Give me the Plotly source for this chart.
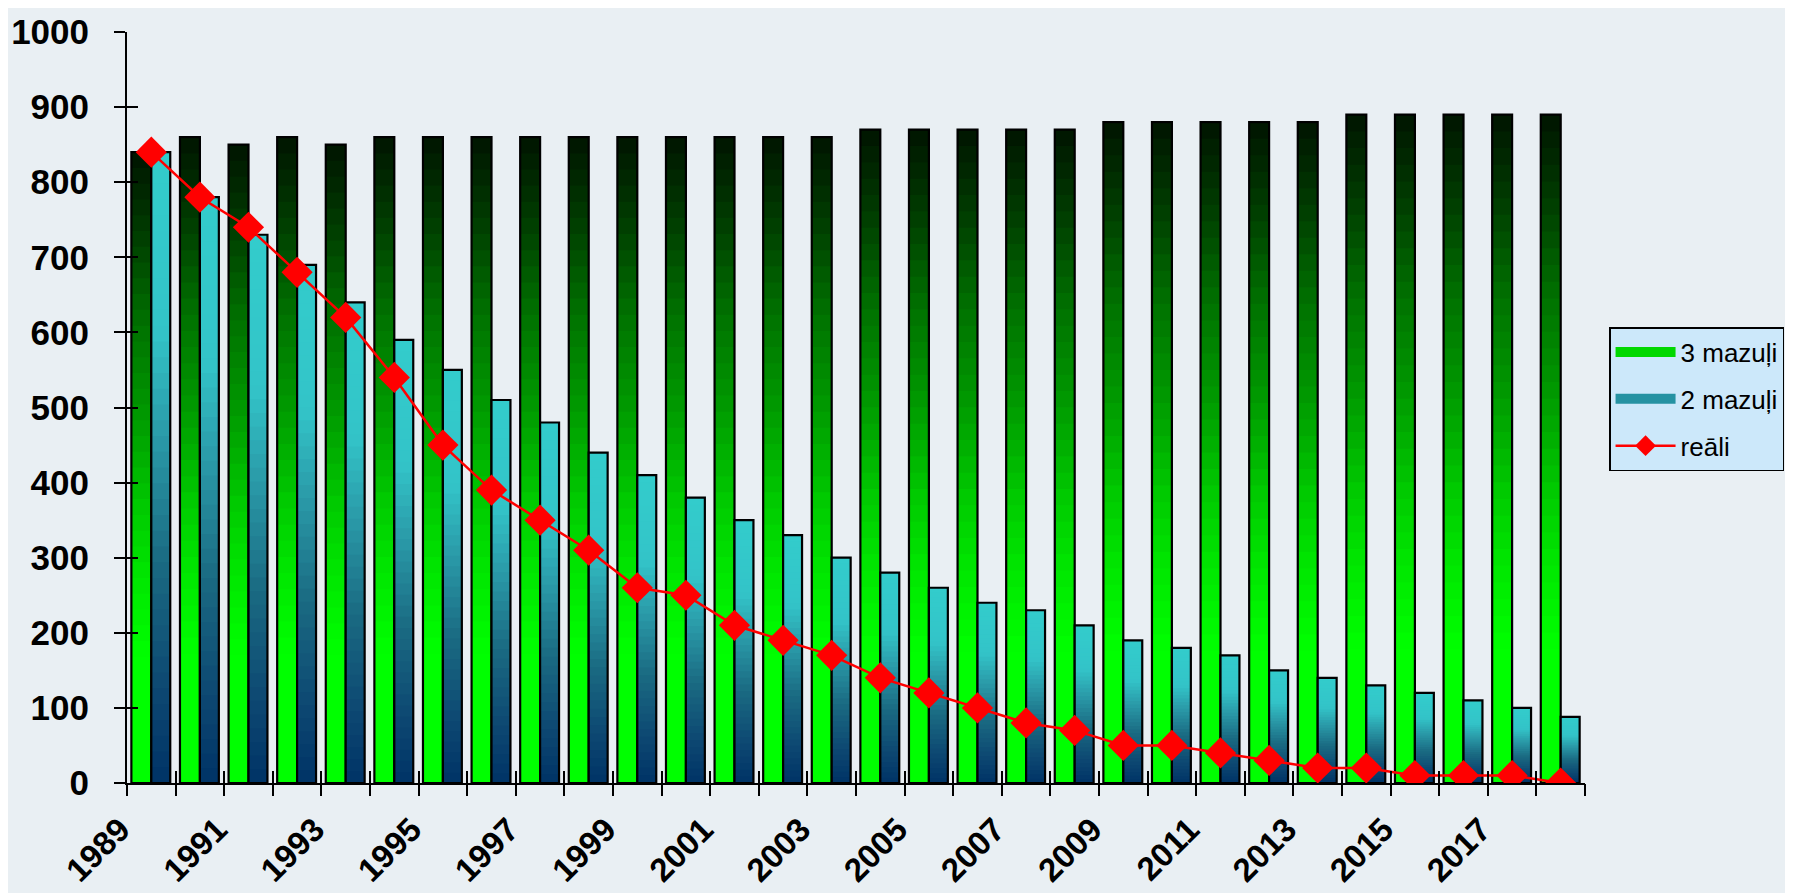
import plotly.graph_objects as go

# ---------------- data ----------------
years = list(range(1989, 2019))
three_mazuli = [840, 860, 850, 860, 850, 860, 860, 860, 860, 860,
                860, 860, 860, 860, 860, 870, 870, 870, 870, 870,
                880, 880, 880, 880, 880, 890, 890, 890, 890, 890]
two_mazuli = [840, 780, 730, 690, 640, 590, 550, 510, 480, 440,
              410, 380, 350, 330, 300, 280, 260, 240, 230, 210,
              190, 180, 170, 150, 140, 130, 120, 110, 100, 88]
reali = [840, 780, 740, 680, 620, 540, 450, 390, 350, 310,
         260, 250, 210, 190, 170, 140, 120, 100, 80, 70,
         50, 50, 40, 30, 20, 20, 10, 10, 10, 0]
x_tick_years = years[::2]
x_tick_labels = [str(y) for y in x_tick_years]
y_ticks = list(range(0, 1001, 100))
series_names = ["3 mazuļi", "2 mazuļi", "reāli"]

# ---------------- styles ----------------
FONT = "Liberation Sans, Arial, sans-serif"
BG = "#e9eff3"
GREEN_STOPS = [(0.0, (0, 255, 0)), (0.2, (0, 255, 0)), (0.32, (0, 232, 0)),
               (0.43, (0, 204, 0)), (0.58, (0, 154, 0)), (0.73, (0, 112, 0)),
               (0.87, (0, 60, 0)), (1.0, (0, 20, 0))]
TEAL_STOPS = [(0.0, (0, 51, 102)), (0.15, (13, 72, 114)), (0.35, (26, 106, 130)),
              (0.55, (42, 154, 168)), (0.72, (51, 196, 200)), (1.0, (51, 204, 204))]
N_SLICES = 40


def grad(stops, h):
    for (h0, c0), (h1, c1) in zip(stops[:-1], stops[1:]):
        if h0 <= h <= h1:
            t = 0 if h1 == h0 else (h - h0) / (h1 - h0)
            c = [round(a + (b - a) * t) for a, b in zip(c0, c1)]
            return "rgb(%d,%d,%d)" % tuple(c)
    c = stops[-1][1]
    return "rgb(%d,%d,%d)" % c


fig = go.Figure()


def gradient_bars(values, stops, offset, width, name, legend_color, group):
    for i in range(N_SLICES):
        frac = i / N_SLICES
        fig.add_trace(go.Bar(
            x=years, y=[v * (1 - frac) for v in values], base=[v * frac for v in values],
            offset=offset, width=width,
            marker=dict(color=grad(stops, (i + 0.5) / N_SLICES), line=dict(width=0)),
            showlegend=False, hoverinfo="skip"))
    # outline
    fig.add_trace(go.Bar(
        x=years, y=values, offset=offset, width=width, name=name,
        marker=dict(color="rgba(255,255,255,0)", line=dict(color="black", width=2.2)),
        showlegend=False))
    # legend proxy (thick line swatch)
    fig.add_trace(go.Scatter(
        x=[None], y=[None], name=name, legendgroup=group, mode="lines",
        line=dict(color=legend_color, width=16),
        showlegend=True, hoverinfo="skip"))


gradient_bars(three_mazuli, GREEN_STOPS, -0.41, 0.41, series_names[0], "#00d800", "g1")
gradient_bars(two_mazuli, TEAL_STOPS, 0.0, 0.39, series_names[1], "#2592a2", "g2")

fig.add_trace(go.Scatter(
    x=years, y=reali, mode="lines+markers", name=series_names[2], legendgroup="g3",
    line=dict(color="#ff0000", width=2.5),
    marker=dict(symbol="diamond", size=24, color="#ff0000", line=dict(width=0))))

# dummy traces so the overlay axes (cross tick marks) are drawn
boundaries = [y - 0.5 for y in years] + [years[-1] + 0.5]
fig.add_trace(go.Scatter(x=[years[0]], y=[None], xaxis="x2", yaxis="y2",
                         showlegend=False, hoverinfo="skip"))
fig.add_trace(go.Scatter(x=[years[0]], y=[None], xaxis="x3", yaxis="y2",
                         showlegend=False, hoverinfo="skip"))

fig.update_layout(
    width=1793, height=893,
    margin=dict(l=119, r=216, t=24, b=118, autoexpand=False),
    paper_bgcolor=BG, plot_bgcolor=BG,
    barmode="overlay",
    font=dict(family=FONT, color="black"),
    xaxis=dict(range=[years[0] - 0.5, years[-1] + 0.5], tickmode="array",
               tickvals=x_tick_years, ticktext=x_tick_labels, tickangle=-45,
               ticks="", showgrid=False, zeroline=False,
               showline=True, linecolor="black", linewidth=2,
               tickfont=dict(family=FONT, size=33, weight="bold", color="black"),
               ticklabelstandoff=12, ticklabelshift=-31),
    xaxis2=dict(range=[years[0] - 0.5, years[-1] + 0.5], overlaying="x", anchor="y",
                tickmode="array", tickvals=boundaries, ticks="outside", ticklen=12,
                tickwidth=2, tickcolor="black", showticklabels=False,
                showgrid=False, zeroline=False, showline=False),
    xaxis3=dict(range=[years[0] - 0.5, years[-1] + 0.5], overlaying="x", anchor="y",
                tickmode="array", tickvals=boundaries, ticks="inside", ticklen=12,
                tickwidth=2, tickcolor="black", showticklabels=False,
                showgrid=False, zeroline=False, showline=False),
    yaxis=dict(range=[0, 1000], tickmode="array", tickvals=y_ticks,
               ticks="outside", ticklen=11, tickwidth=2, tickcolor="black",
               showgrid=False, zeroline=False, showline=True, linecolor="black",
               linewidth=2,
               tickfont=dict(family=FONT, size=35, weight="bold", color="black"),
               ticklabelstandoff=18),
    yaxis2=dict(range=[0, 1000], overlaying="y", anchor="x", side="left",
                tickmode="array", tickvals=y_ticks, ticks="inside", ticklen=11,
                tickwidth=2, tickcolor="black", showticklabels=False,
                showgrid=False, zeroline=False, showline=False),
    legend=dict(x=1.0165, y=0.607, xanchor="left", yanchor="top",
                bgcolor="#cce8fa", bordercolor="black", borderwidth=1.5,
                font=dict(family=FONT, size=26, color="black"),
                itemwidth=60, traceorder="grouped", tracegroupgap=10),
)

fig.write_html("out.html")
